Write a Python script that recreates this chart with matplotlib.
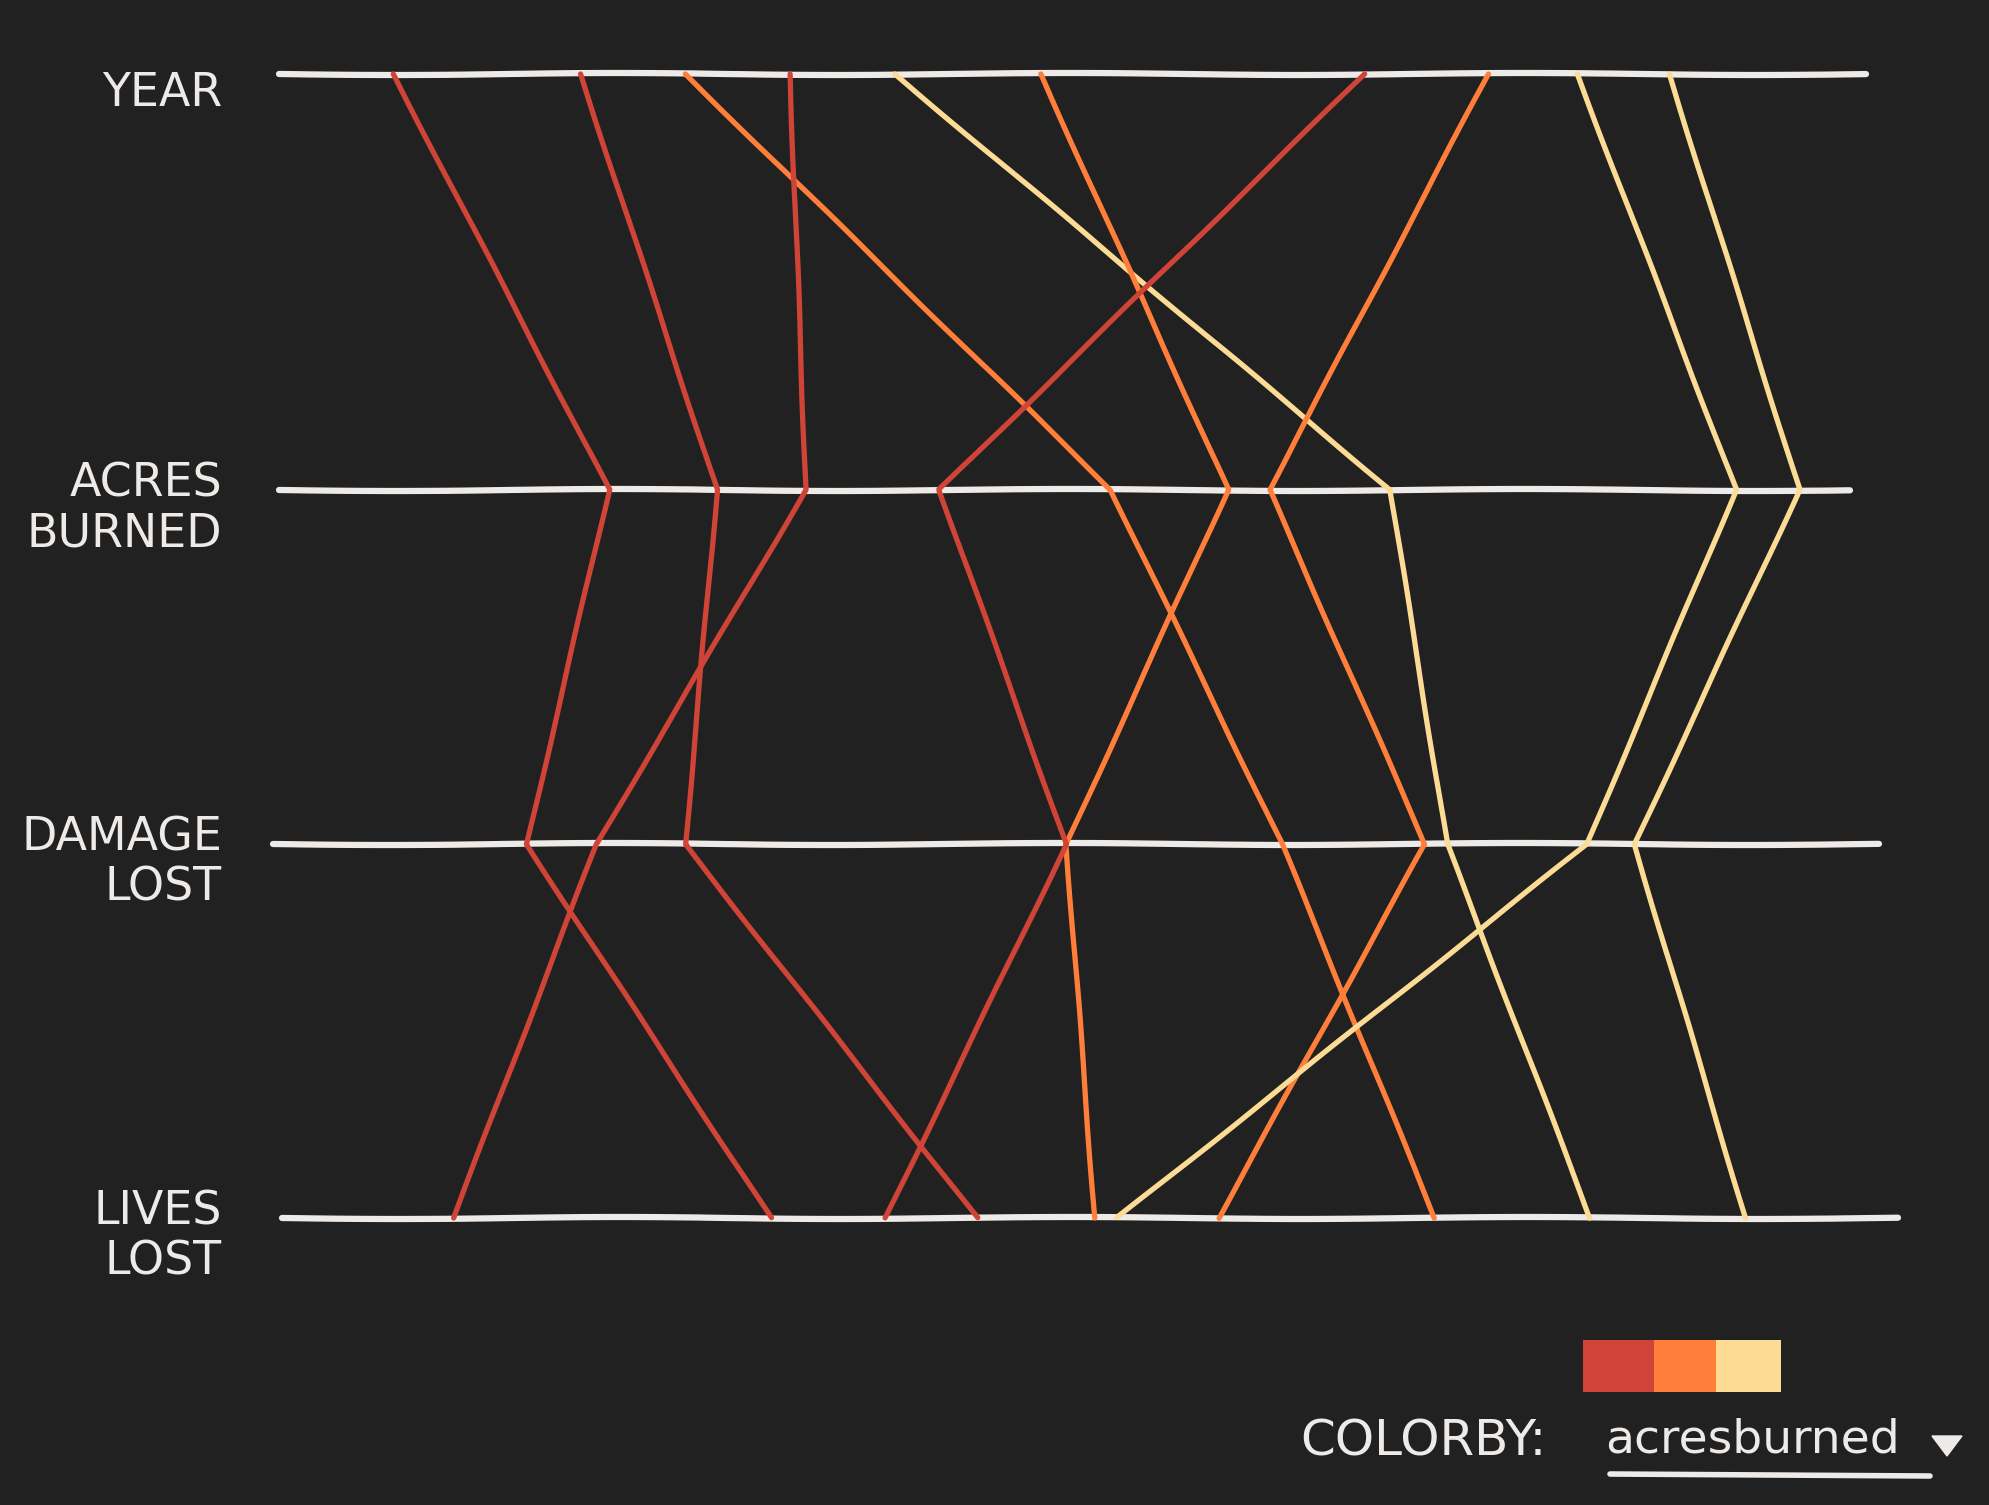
import matplotlib
matplotlib.use("Agg")
import matplotlib.pyplot as plt
from matplotlib.patches import Rectangle, Polygon

# dimensions (top to bottom) and where each fire crosses them (0-100 along the axis)
dimensions = ["YEAR", "ACRES\nBURNED", "DAMAGE\nLOST", "LIVES\nLOST"]
year = [7.2, 19.0, 25.6, 32.2, 38.8, 48.0, 68.4, 76.2, 81.8, 87.6]
acres_burned = [20.8, 27.6, 52.4, 33.2, 70.0, 59.8, 41.6, 62.4, 91.8, 95.8]
damage_lost = [15.6, 25.6, 63.2, 20.0, 73.6, 49.6, 49.6, 72.2, 82.4, 85.4]
lives_lost = [31.0, 44.0, 72.8, 11.0, 82.6, 51.4, 38.2, 59.2, 52.8, 92.4]
acres_class = [0, 0, 1, 0, 2, 1, 0, 1, 2, 2]

palette = ["#D04437", "#FF7F3A", "#FCDC94"]
bg = "#212121"
ink = "#EEEAE7"

# layout
row_y = [0, 1.09, 2.02, 3]
axis_start = [0.0, 0.0, -0.4, 0.2]
axis_end = [100.0, 99.0, 100.8, 102.0]

fig = plt.figure(figsize=(19.9, 15.05), dpi=100, facecolor=bg)
ax = fig.add_axes([0, 0, 1, 1])
ax.set_facecolor(bg)
ax.set_xlim(-17.58, 107.8)
# y=0 at pixel 74, y=3 at pixel 1218
ax.set_ylim(3 + (1505 - 1218) / 381.3, -74 / 381.3)
ax.axis("off")

for i in range(len(dimensions)):
    ln, = ax.plot([axis_start[i], axis_end[i]], [row_y[i], row_y[i]],
                  color=ink, lw=4.5, solid_capstyle="round", zorder=1)
    ln.set_sketch_params(scale=1.0, length=500, randomness=2)
    ax.text(-3.6, row_y[i] + 0.05, dimensions[i], color=ink, fontsize=33,
            ha="right", va="center", family="DejaVu Sans", linespacing=1.15)

cols = list(zip(year, acres_burned, damage_lost, lives_lost))
for vals, c in zip(cols, acres_class):
    ln, = ax.plot(vals, row_y, color=palette[c], lw=3.8,
                  solid_capstyle="round", solid_joinstyle="round", zorder=2)
    ln.set_sketch_params(scale=0.6, length=300, randomness=2)

# colour legend
fax = fig.add_axes([0, 0, 1, 1], facecolor="none")
fax.set_xlim(0, 1990)
fax.set_ylim(1505, 0)
fax.axis("off")
sw_x = [1583, 1654, 1716]
sw_w = [71, 62, 65]
for x0, w, c in zip(sw_x, sw_w, palette):
    fax.add_patch(Rectangle((x0, 1340), w, 52, color=c, lw=0))
fax.text(1300, 1442, "COLORBY:", color=ink, fontsize=36, ha="left", va="center")
fax.text(1605, 1440, "acresburned", color=ink, fontsize=34, ha="left", va="center")
fax.plot([1610, 1930], [1474, 1476], color=ink, lw=4, solid_capstyle="round")
fax.add_patch(Polygon([[1932, 1436], [1962, 1436], [1947, 1456]], closed=True, color=ink))

fig.savefig("out.png", dpi=100, facecolor=bg)
